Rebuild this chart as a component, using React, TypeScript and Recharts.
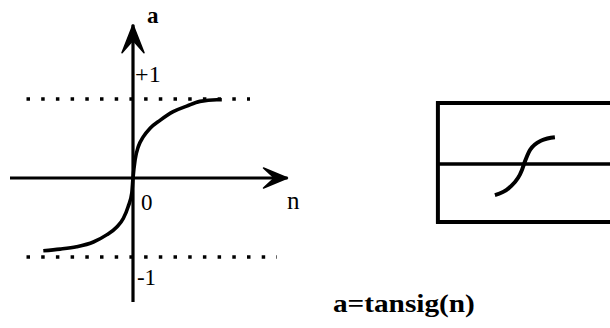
import React from "react";
import { Line, LineChart, ReferenceDot, ReferenceLine, XAxis, YAxis } from "recharts";

// tansig curve (n, a)
const curveN = [-2.99, -2.43, -1.88, -1.32, -0.88, -0.54, -0.32, -0.16, -0.04, 0, 0.07, 0.18, 0.34, 0.57, 0.9, 1.34, 1.79, 2.23, 2.79, 2.96];
const curveA = [-0.92, -0.9, -0.87, -0.81, -0.72, -0.62, -0.51, -0.36, -0.19, 0, 0.23, 0.4, 0.52, 0.63, 0.73, 0.84, 0.91, 0.97, 0.99, 0.99];

// small symbol inside the block on the right
const iconN = [-0.97, -0.47, -0.07, 0, 0.2, 0.6, 1.03];
const iconA = [-0.51, -0.38, -0.1, 0, 0.23, 0.39, 0.44];

const curve = curveN.map((n, i) => ({ n, a: curveA[i] }));
const icon = iconN.map((n, i) => ({ n, a: iconA[i] }));

const W = 610;
const H = 328;
const FONT = "'Times New Roman', 'Liberation Serif', Times, serif";

type Seg = { x1?: number; y1?: number; x2?: number; y2?: number };

// axis line with a notched arrowhead at its end
const arrowLine = (len: number, half: number) => (p: Seg) => {
  const x1 = Number(p.x1), y1 = Number(p.y1), x2 = Number(p.x2), y2 = Number(p.y2);
  const ang = Math.atan2(y2 - y1, x2 - x1);
  const pt = (bx: number, by: number) => {
    const c = Math.cos(ang), s = Math.sin(ang);
    return `${x2 + bx * c - by * s},${y2 + bx * s + by * c}`;
  };
  return (
    <g>
      <line x1={x1} y1={y1} x2={x2} y2={y2} stroke="#000" strokeWidth={3.2} />
      <path
        d={`M${pt(0, 0)} L${pt(-len, -half)} L${pt(-len * 0.55, 0)} L${pt(-len, half)} Z`}
        fill="#000"
        stroke="#000"
        strokeWidth={1.5}
        strokeLinejoin="round"
      />
    </g>
  );
};

const txt = (t: string, size: number, bold = false, anchor: "start" | "middle" = "start", len?: number) =>
  (p: { cx?: number; cy?: number }) => (
    <text
      x={p.cx}
      y={p.cy}
      style={{ fontFamily: FONT, fontSize: size, fontWeight: bold ? 700 : 400 }}
      textAnchor={anchor}
      fill="#000"
      textLength={len}
      lengthAdjust={len ? "spacingAndGlyphs" : undefined}
    >
      {t}
    </text>
  );

export default function App() {
  return (
    <div style={{ position: "absolute", left: 0, top: 0, width: W, height: H, background: "#fff", fontFamily: FONT }}>
      <LineChart width={W} height={H} margin={{ top: 0, right: 0, bottom: 0, left: 0 }}>
        {/* main plot: 30px per unit of n, 79px per unit of a */}
        <XAxis xAxisId="m" type="number" dataKey="n" domain={[-133 / 30, 477 / 30]} hide allowDataOverflow />
        <YAxis yAxisId="m" type="number" dataKey="a" domain={[-150 / 79, 178 / 79]} hide allowDataOverflow />
        {/* block symbol */}
        <XAxis xAxisId="b" type="number" dataKey="n" domain={[-524 / 30, 86 / 30]} hide allowDataOverflow />
        <YAxis yAxisId="b" type="number" dataKey="a" domain={[-164 / 61, 164 / 61]} hide allowDataOverflow />

        {/* asymptotes */}
        <ReferenceLine xAxisId="m" yAxisId="m" segment={[{ x: -3.55, y: 1 }, { x: 3.9, y: 1 }]}
          stroke="#000" strokeWidth={3.5} strokeDasharray="3.5 11.2" ifOverflow="visible" />
        <ReferenceLine xAxisId="m" yAxisId="m" segment={[{ x: -3.55, y: -1 }, { x: 4.8, y: -1 }]}
          stroke="#000" strokeWidth={3.5} strokeDasharray="3.5 11.2" ifOverflow="visible" />

        {/* axes */}
        <ReferenceLine xAxisId="m" yAxisId="m" segment={[{ x: -4.1, y: 0 }, { x: 5.15, y: 0 }]}
          ifOverflow="visible" shape={arrowLine(24, 10)} />
        <ReferenceLine xAxisId="m" yAxisId="m" segment={[{ x: 0, y: -1.57 }, { x: 0, y: 1.94 }]}
          ifOverflow="visible" shape={arrowLine(28, 11)} />

        <Line xAxisId="m" yAxisId="m" data={curve} dataKey="a" type="monotone" stroke="#000"
          strokeWidth={3.6} dot={false} isAnimationActive={false} />

        {/* axis labels */}
        <ReferenceDot xAxisId="m" yAxisId="m" x={0.47} y={1.96} r={0} ifOverflow="visible" shape={txt("a", 23, true)} />
        <ReferenceDot xAxisId="m" yAxisId="m" x={0.07} y={1.215} r={0} ifOverflow="visible" shape={txt("+1", 24)} />
        <ReferenceDot xAxisId="m" yAxisId="m" x={0.27} y={-0.405} r={0} ifOverflow="visible" shape={txt("0", 23)} />
        <ReferenceDot xAxisId="m" yAxisId="m" x={5.13} y={-0.39} r={0} ifOverflow="visible" shape={txt("n", 25)} />
        <ReferenceDot xAxisId="m" yAxisId="m" x={0.13} y={-1.355} r={0} ifOverflow="visible" shape={txt("-1", 23)} />

        {/* block */}
        <ReferenceLine xAxisId="b" yAxisId="b" segment={[{ x: -2.93, y: 1 }, { x: 2.87, y: 1 }]}
          stroke="#000" strokeWidth={4} ifOverflow="visible" />
        <ReferenceLine xAxisId="b" yAxisId="b" segment={[{ x: -2.93, y: -0.95 }, { x: 2.87, y: -0.95 }]}
          stroke="#000" strokeWidth={4} ifOverflow="visible" />
        <ReferenceLine xAxisId="b" yAxisId="b" segment={[{ x: -2.87, y: 1.03 }, { x: -2.87, y: -0.98 }]}
          stroke="#000" strokeWidth={4} ifOverflow="visible" />
        <ReferenceLine xAxisId="b" yAxisId="b" segment={[{ x: -2.87, y: 0 }, { x: 2.87, y: 0 }]}
          stroke="#000" strokeWidth={3.5} ifOverflow="visible" />
        <Line xAxisId="b" yAxisId="b" data={icon} dataKey="a" type="monotone" stroke="#000"
          strokeWidth={4} dot={false} isAnimationActive={false} />

        {/* caption */}
        <ReferenceDot xAxisId="m" yAxisId="m" x={9.03} y={-1.696} r={0} ifOverflow="visible"
          shape={txt("a=tansig(n)", 25, true, "middle", 142)} />
      </LineChart>
    </div>
  );
}
